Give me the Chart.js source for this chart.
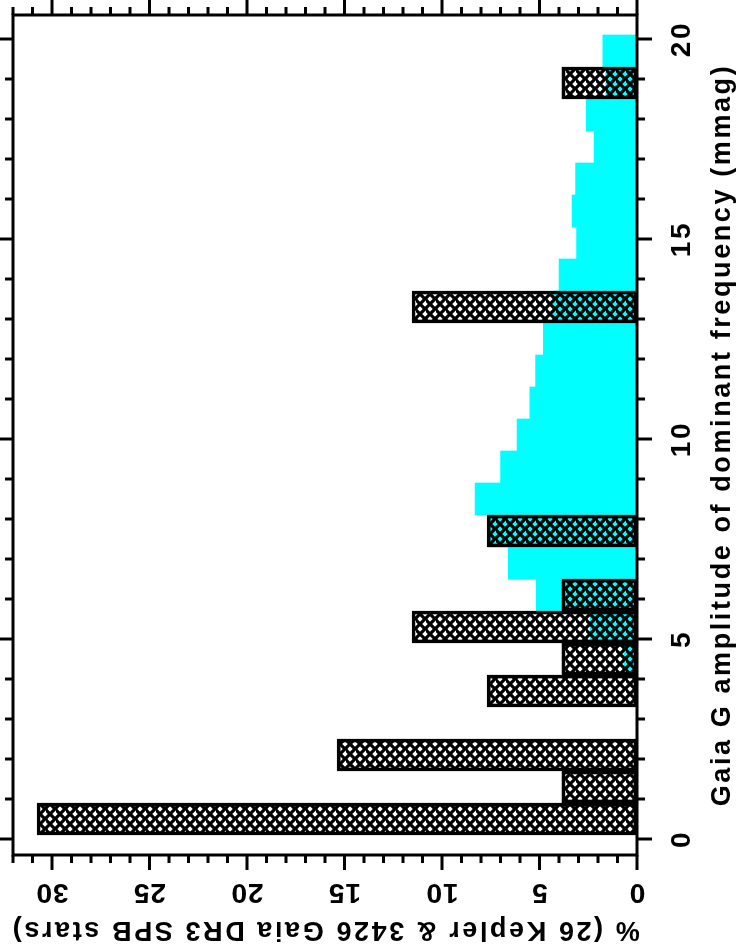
<!DOCTYPE html>
<html>
<head>
<meta charset="utf-8">
<script src="https://cdn.jsdelivr.net/npm/chart.js@4.4.0/dist/chart.umd.min.js"></script>
<style>
  html, body { margin: 0; padding: 0; background: #fff; overflow: hidden; }
  /* plot is built upright (944x741) and turned a quarter turn to the left */
  #wrap {
    position: absolute; left: 0; top: 0; width: 944px; height: 741px;
    transform-origin: 0 0; transform: translate(0px, 944px) rotate(-90deg);
  }
</style>
</head>
<body>
<div id="wrap"><canvas id="histChart"></canvas></div>
<script>
  // bin centres (mmag), bins are 0.8 mmag wide
  const binCenters = [0.5, 1.3, 2.1, 2.9, 3.7, 4.5, 5.3, 6.1, 6.9, 7.7, 8.5, 9.3, 10.1,
                      10.9, 11.7, 12.5, 13.3, 14.1, 14.9, 15.7, 16.5, 17.3, 18.1, 18.9, 19.7];
  // Gaia DR3 SPB stars, % per bin
  const gaiaPct = [null, null, null, null, null, 0.67, 2.4, 5.16, 6.6, 7.6, 8.3, 7.0, 6.15,
                   5.5, 5.2, 4.8, 4.3, 4.0, 3.1, 3.33, 3.15, 2.2, 2.6, 1.6, 1.75];
  // Kepler SPB stars, % per bin
  const keplerPct = [30.77, 3.85, 15.38, null, 7.69, 3.85, 11.54, 3.85, null, 7.69, null, null, null,
                     null, null, null, 11.54, null, null, null, null, null, null, 3.85, null];

  const ampTicks = [0, 5, 10, 15, 20];
  const pctTicks = [0, 5, 10, 15, 20, 25, 30];

  const FONT = "'Liberation Sans', Arial, sans-serif";

  // cross-hatch used for the Kepler bars (transparent holes)
  function makeHatch() {
    const w = 10, h = 10;
    const c = document.createElement('canvas');
    c.width = w; c.height = h;
    const g = c.getContext('2d');
    g.strokeStyle = '#000';
    g.lineWidth = 3.2;
    g.beginPath();
    for (let dx = -w; dx <= w; dx += w) {
      for (let dy = -h; dy <= h; dy += h) {
        g.moveTo(dx, dy); g.lineTo(dx + w, dy + h);
        g.moveTo(dx + w, dy); g.lineTo(dx, dy + h);
      }
    }
    g.stroke();
    return g.createPattern(c, 'repeat');
  }

  const framePlugin = {
    id: 'frame',
    beforeDraw(chart) {
      chart.ctx.letterSpacing = '2.6px';
    },
    afterDraw(chart) {
      const { ctx, chartArea: a, scales: { x, y } } = chart;
      ctx.save();
      ctx.letterSpacing = '1px';
      ctx.strokeStyle = '#000';
      ctx.lineWidth = 3;
      ctx.strokeRect(a.left, a.top, a.right - a.left, a.bottom - a.top);

      ctx.beginPath();
      for (let v = 0; v <= 20; v++) {
        const px = x.getPixelForValue(v);
        const len = v % 5 === 0 ? 15 : 8;
        ctx.moveTo(px, a.bottom); ctx.lineTo(px, a.bottom + len);
        ctx.moveTo(px, a.top); ctx.lineTo(px, a.top - len);
      }
      for (let v = 0; v <= 32; v++) {
        const py = y.getPixelForValue(v);
        const len = v % 5 === 0 ? 15 : 8;
        ctx.moveTo(a.left, py); ctx.lineTo(a.left - len, py);
        ctx.moveTo(a.right, py); ctx.lineTo(a.right + len, py);
      }
      ctx.stroke();

      // % tick labels, written along the axis
      ctx.fillStyle = '#000';
      ctx.font = 'bold 28px ' + FONT;
      ctx.textAlign = 'center';
      ctx.textBaseline = 'alphabetic';
      pctTicks.forEach(v => {
        ctx.save();
        ctx.translate(60, y.getPixelForValue(v));
        ctx.rotate(-Math.PI / 2);
        ctx.fillText(String(v), 0, 0);
        ctx.restore();
      });
      ctx.restore();
    }
  };

  const ctx = document.getElementById('histChart').getContext('2d');
  const hatch = makeHatch();

  new Chart(ctx, {
    type: 'bar',
    data: {
      datasets: [
        {
          label: 'Kepler',
          data: binCenters.map((c, i) => ({ x: c, y: keplerPct[i] })),
          backgroundColor: hatch,
          borderColor: '#000',
          borderWidth: 3,
          borderSkipped: false,
          order: 0
        },
        {
          label: 'Gaia DR3',
          data: binCenters.map((c, i) => ({ x: c, y: gaiaPct[i] })),
          backgroundColor: '#00ffff',
          borderWidth: 0,
          order: 1
        }
      ]
    },
    options: {
      responsive: true,
      maintainAspectRatio: false,
      animation: false,
      grouped: false,
      categoryPercentage: 1,
      barPercentage: 1,
      layout: { padding: { top: 13, right: 15, left: 0, bottom: 0 } },
      plugins: { legend: { display: false }, tooltip: { enabled: false } },
      scales: {
        x: {
          type: 'linear',
          min: -0.4,
          max: 20.6,
          offset: false,
          grid: { display: false },
          border: { display: false },
          afterBuildTicks: s => { s.ticks = ampTicks.map(v => ({ value: v })); },
          afterFit: s => { s.height = 104; },
          ticks: {
            font: { family: FONT, size: 28, weight: 'bold' },
            color: '#000',
            padding: 20,
            minRotation: 0,
            maxRotation: 0
          },
          title: {
            display: true,
            text: 'Gaia G amplitude of dominant frequency (mmag)',
            font: { family: FONT, size: 27, weight: 'bold', lineHeight: 1 },
            color: '#000',
            padding: { top: 0, bottom: 5 }
          }
        },
        y: {
          type: 'linear',
          min: 0,
          max: 32,
          grid: { display: false },
          border: { display: false },
          afterFit: s => { s.width = 89; },
          ticks: { display: false },
          title: {
            display: true,
            text: '% (26 Kepler & 3426 Gaia DR3 SPB stars)',
            font: { family: FONT, size: 27, weight: 'bold', lineHeight: 1 },
            color: '#000',
            padding: { top: 1, bottom: 0 }
          }
        }
      }
    },
    plugins: [framePlugin]
  });
</script>
</body>
</html>
